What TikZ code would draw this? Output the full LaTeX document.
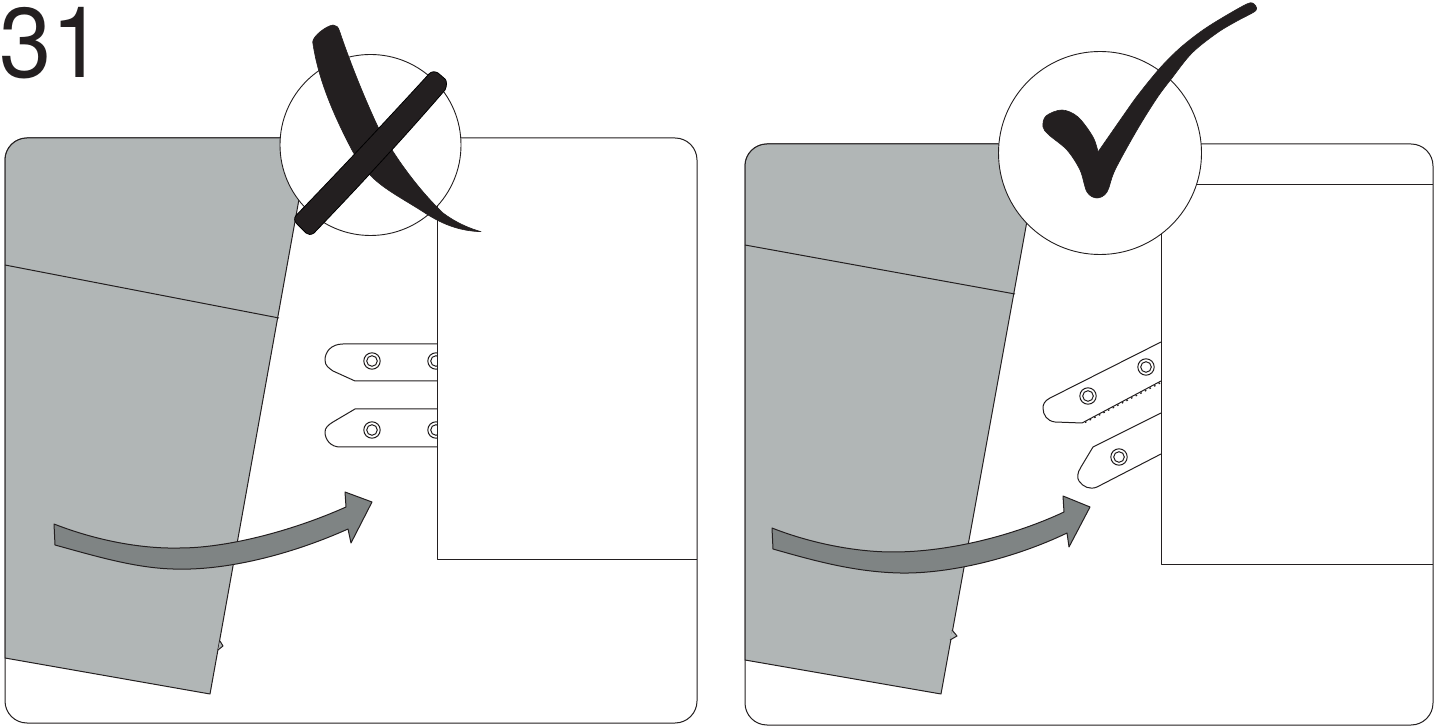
\documentclass[tikz,border=0pt]{standalone}
\usepackage{fontspec}
\setmainfont{TeX Gyre Heros}
\definecolor{panelgray}{HTML}{B1B6B6}
\definecolor{arrowgray}{HTML}{7F8484}
\definecolor{inkblack}{HTML}{231F20}
\tikzset{
  outline/.style={draw=inkblack,line width=0.5pt,line join=round},
  panel/.style={outline,fill=white},
  graypart/.style={outline,fill=panelgray},
  sweep/.style={outline,fill=arrowgray},
  ink/.style={fill=inkblack,draw=inkblack,line width=0.3pt,line join=round},
  barink/.style={fill=inkblack,draw=black,line width=0.4pt,line join=round},
  medallion/.style={draw=inkblack,line width=0.45pt,fill=white},
  strap/.style={outline,fill=white},
  rivetout/.style={draw=inkblack,line width=0.5pt,fill=white},
}
\begin{document}
\begin{tikzpicture}[x=0.5pt,y=-0.5pt]
\useasboundingbox (0,0) rectangle (1445,726);
\node[anchor=base west,inner sep=0pt,font=\fontsize{49.5}{52}\selectfont,text=inkblack] (stepnum) at (-1,78) {\scalebox{0.95}[1]{31}};

% --- left panel ---
\draw[panel] (27,138) -- (675,138) arc[start angle=-90,end angle=0,radius=22] -- (697,701) arc[start angle=0,end angle=90,radius=22] -- (27,723) arc[start angle=90,end angle=180,radius=22] -- (5,160) arc[start angle=180,end angle=270,radius=22] -- cycle;
% straps
\draw[strap] (437,344) -- (343,344) .. controls (331,344) and (325,352) .. (325,360) .. controls (325,366) and (329,368) .. (333,371) -- (355,381) -- (437,381);
\draw[strap] (437,409) -- (355,409) -- (333,422) .. controls (328,425) and (325,428) .. (325,432) .. controls (325,440) and (331,447) .. (340,447) -- (437,447);
\foreach \px/\py in {372/361,372/430,436/361,436/430}{
  \begin{scope}
    \clip (300,330) rectangle (437,460);
    \draw[rivetout] (\px,\py) circle[radius=8.2];
    \draw[rivetout] (\px,\py) circle[radius=5.3];
  \end{scope}
}
% box
\draw[outline] (697,560) -- (437,560) -- (437,200);
% gray
\draw[graypart] (5,658) -- (5,160) arc[start angle=180,end angle=270,radius=22] -- (310,138) -- (210,694) -- cycle;
\draw[outline] (5,265) -- (279,318);
\draw[graypart] (220,641) -- (223,646) -- (218,650);
% arrow
\draw[sweep] (54,524) .. controls (95,540) and (140,549) .. (180,548) .. controls (225,548) and (290,532) .. (346,507) -- (345,492) -- (372,502) -- (351,543) -- (348,529) .. controls (290,555) and (225,571) .. (173,569) .. controls (135,568) and (95,556) .. (55,545) -- cycle;
% medallion
\node[medallion,circle,minimum size=90.5pt,inner sep=0pt] (crossdisc) at (370.5,145) {};
% cross
\path[ink] (481,231.7) .. controls (462,231) and (445,226) .. (425,213) .. controls (405,200) and (385,190) .. (371.7,176.7) .. controls (362,166) and (358,160) .. (353,152) .. controls (335,118) and (318,80) .. (312.7,42) .. controls (313,36) and (326,26) .. (333,25) .. controls (336,25) and (338.5,27) .. (339.5,31) .. controls (350,62) and (364,97) .. (378,127) .. controls (385,140) and (390,147) .. (394,153) .. controls (405,170) and (423,194) .. (443,213) .. controls (455,222) and (468,228) .. (481,231.7) -- cycle;
\path[barink] (429,74) .. controls (431,71.5) and (435,71) .. (438,73) -- (445,79) .. controls (447,81) and (447,86) .. (445,90) .. controls (400,142) and (360,185) .. (314,233) .. controls (311,235) and (308,235) .. (306,233) -- (297,224) .. controls (294,221) and (294,218) .. (296,215.5) .. controls (340,170) and (385,122) .. (429,74) -- cycle;

% --- right panel ---
\draw[panel] (767,144) -- (1411,144) arc[start angle=-90,end angle=0,radius=22] -- (1433,703) arc[start angle=0,end angle=90,radius=22] -- (767,725) arc[start angle=90,end angle=180,radius=22] -- (745,166) arc[start angle=180,end angle=270,radius=22] -- cycle;
\draw[outline] (1150,185) -- (1433,185);
% straps
\draw[strap] (1161,342) -- (1050,398) .. controls (1044,401) and (1043,405) .. (1043,408) .. controls (1043,415) and (1047,421) .. (1055,422) -- (1082,423) -- (1161,381);
\draw[draw=inkblack,line width=0.65pt,dash pattern=on 0.8pt off 1.8pt] (1085,422.5) -- (1161,382.5);
\draw[strap] (1161,413) -- (1093,447) -- (1081,467) .. controls (1077,473) and (1077,478) .. (1079,481) .. controls (1083,487) and (1090,490) .. (1097,487) -- (1161,454);
\foreach \px/\py in {1146/367,1088/396,1119/457}{
  \draw[rivetout] (\px,\py) circle[radius=8.2];
  \draw[rivetout] (\px,\py) circle[radius=5.3];
}
% box
\draw[outline] (1433,565) -- (1161,565) -- (1161,220);
% gray
\draw[graypart] (745,660) -- (745,166) arc[start angle=180,end angle=270,radius=22] -- (1041,144) -- (941,694) -- cycle;
\draw[outline] (745,245) -- (1015,294);
\draw[graypart] (952,630) -- (957,636) -- (950,640);
% arrow
\draw[sweep] (772,528) .. controls (810,543) and (855,552) .. (893,552) .. controls (950,552) and (1015,535) .. (1064,512) -- (1063,496) -- (1090,507) -- (1069,547) -- (1067,533) .. controls (1015,558) and (950,574) .. (900,573) .. controls (855,572) and (815,561) .. (773,549) -- cycle;
% medallion
\node[medallion,circle,minimum size=101.5pt,inner sep=0pt] (checkdisc) at (1100,153) {};
% check mark
\path[ink] plot[smooth,tension=0.55] coordinates {(1098,152) (1123,116) (1138,95) (1160,68) (1180,48) (1203,30) (1227,15) (1248,3.5) (1254,4) (1256.5,8) (1254,12) (1237,21) (1217,33) (1192,53) (1172,78) (1157,98) (1137,130) (1115,170) (1107,192) (1097,198) (1087,192) (1080,170) (1067,150) (1049,135) (1043,127) (1046,116) (1062,110) (1078,117) (1093,137) (1098,152)} -- cycle;
\end{tikzpicture}
\end{document}
